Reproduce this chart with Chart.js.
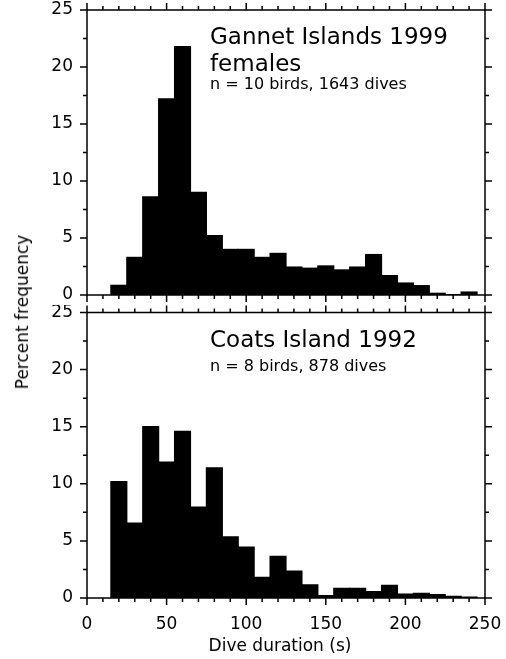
<!DOCTYPE html>
<html>
<head>
<meta charset="utf-8">
<script src="https://cdn.jsdelivr.net/npm/chart.js@4"></script>
<style>
  body { margin: 0; background: #fff; }
  #wrap { position: relative; width: 506px; height: 659px; overflow: hidden; }
  canvas { position: absolute; left: 0; }
  #ylab {
    position: absolute; left: 22px; top: 312px;
    transform: translate(-50%, -50%) rotate(-90deg);
    font: 17px "DejaVu Sans", sans-serif; color: #000; white-space: nowrap;
  }
</style>
</head>
<body>
<div id="wrap">
  <canvas id="topChart" width="506" height="305" style="top:0"></canvas>
  <canvas id="botChart" width="506" height="354" style="top:305px"></canvas>
  <div id="ylab">Percent frequency</div>
</div>
<script>
// bin centres (s), bins are 10 s wide: 15-25, 25-35 ... 235-245
const binCenters = [20, 30, 40, 50, 60, 70, 80, 90, 100, 110, 120, 130, 140, 150, 160, 170, 180, 190, 200, 210, 220, 230, 240];

// percent of dives per bin
const gannetPct = [0.85, 3.3, 8.6, 17.2, 21.8, 9.0, 5.2, 4.0, 4.0, 3.3, 3.65, 2.45, 2.35, 2.55, 2.2, 2.45, 3.55, 1.7, 1.05, 0.82, 0.15, 0.03, 0.26];
const coatsPct = [10.2, 6.55, 15.0, 11.9, 14.6, 7.95, 11.4, 5.35, 4.45, 1.8, 3.65, 2.35, 1.15, 0.2, 0.85, 0.85, 0.55, 1.1, 0.35, 0.4, 0.3, 0.15, 0.07];

const xTicks = [0, 50, 100, 150, 200, 250];
const yTicks = [0, 5, 10, 15, 20, 25];

const topLabels = ['Gannet Islands 1999', 'females', 'n = 10 birds, 1643 dives'];
const botLabels = ['Coats Island 1992', 'n = 8 birds, 878 dives'];

const FONT = '"DejaVu Sans", sans-serif';

// frame + outward ticks on all four sides, minor every 10 s / 2.5 %
const framePlugin = {
    id: 'frame',
    afterDraw(chart) {
        let ctx = chart.ctx;
        let a = chart.chartArea;
        let xs = chart.scales.x, ys = chart.scales.y;
        ctx.save();
        ctx.strokeStyle = '#000';
        ctx.lineWidth = 1.5;
        ctx.strokeRect(a.left, a.top, a.right - a.left, a.bottom - a.top);
        ctx.beginPath();
        for (let v = 0; v <= 250; v += 10) {
            let px = xs.getPixelForValue(v);
            let len = v % 50 === 0 ? 7 : 4;
            ctx.moveTo(px, a.bottom); ctx.lineTo(px, a.bottom + len);
            ctx.moveTo(px, a.top); ctx.lineTo(px, a.top - len);
        }
        for (let v = 0; v <= 25; v += 2.5) {
            let py = ys.getPixelForValue(v);
            let len = v % 5 === 0 ? 7 : 4;
            ctx.moveTo(a.left, py); ctx.lineTo(a.left - len, py);
            ctx.moveTo(a.right, py); ctx.lineTo(a.right + len, py);
        }
        ctx.stroke();

        // panel text
        let lines = chart.options.plugins.frame.lines;
        ctx.fillStyle = '#000';
        ctx.textBaseline = 'alphabetic';
        lines.forEach(l => {
            ctx.font = l.size + 'px ' + FONT;
            ctx.fillText(l.text, 210, a.top + l.dy);
        });
        let xt = chart.options.plugins.frame.xTitle;
        if (xt) {
            ctx.font = '17px ' + FONT;
            ctx.textAlign = 'center';
            ctx.fillText(xt, (a.left + a.right) / 2 - 6, a.bottom + 53);
        }
        ctx.restore();
    }
};

function makeChart(id, values, showX, padTop, xHeight, lines, xTitle) {
    return new Chart(document.getElementById(id), {
        type: 'bar',
        data: {
            datasets: [{
                data: binCenters.map((c, i) => ({ x: c, y: values[i] })),
                backgroundColor: '#000',
                borderWidth: 0,
                inflateAmount: 0.6,
                barPercentage: 1.0,
                categoryPercentage: 1.0
            }]
        },
        options: {
            responsive: false,
            animation: false,
            devicePixelRatio: 1,
            layout: { padding: { top: padTop, right: 21, left: 0, bottom: 0 } },
            plugins: {
                legend: { display: false },
                tooltip: { enabled: false },
                frame: { lines: lines, xTitle: xTitle }
            },
            scales: {
                x: {
                    type: 'linear',
                    offset: false,
                    min: 0, max: 250,
                    grid: { display: false, drawTicks: false, offset: false },
                    border: { display: false },
                    afterBuildTicks: s => { s.ticks = xTicks.map(v => ({ value: v })); },
                    ticks: { display: showX, padding: 16, color: '#000', font: { family: FONT, size: 17 } },
                    afterFit: s => { s.height = xHeight; s.paddingLeft = 0; s.paddingRight = 0; }
                },
                y: {
                    min: 0, max: 25,
                    grid: { display: false, drawTicks: false },
                    border: { display: false },
                    afterBuildTicks: s => { s.ticks = yTicks.map(v => ({ value: v })); },
                    ticks: { padding: 14, color: '#000', font: { family: FONT, size: 17 } },
                    afterFit: s => { s.width = 87; s.paddingTop = 0; s.paddingBottom = 0; }
                }
            }
        },
        plugins: [framePlugin]
    });
}

makeChart('topChart', gannetPct, false, 10, 10, [
    { text: topLabels[0], size: 23, dy: 34 },
    { text: topLabels[1], size: 23, dy: 61 },
    { text: topLabels[2], size: 16, dy: 79 }
], null);

makeChart('botChart', coatsPct, true, 7.5, 61, [
    { text: botLabels[0], size: 23, dy: 34.5 },
    { text: botLabels[1], size: 16, dy: 58.5 }
], 'Dive duration (s)');
</script>
</body>
</html>
